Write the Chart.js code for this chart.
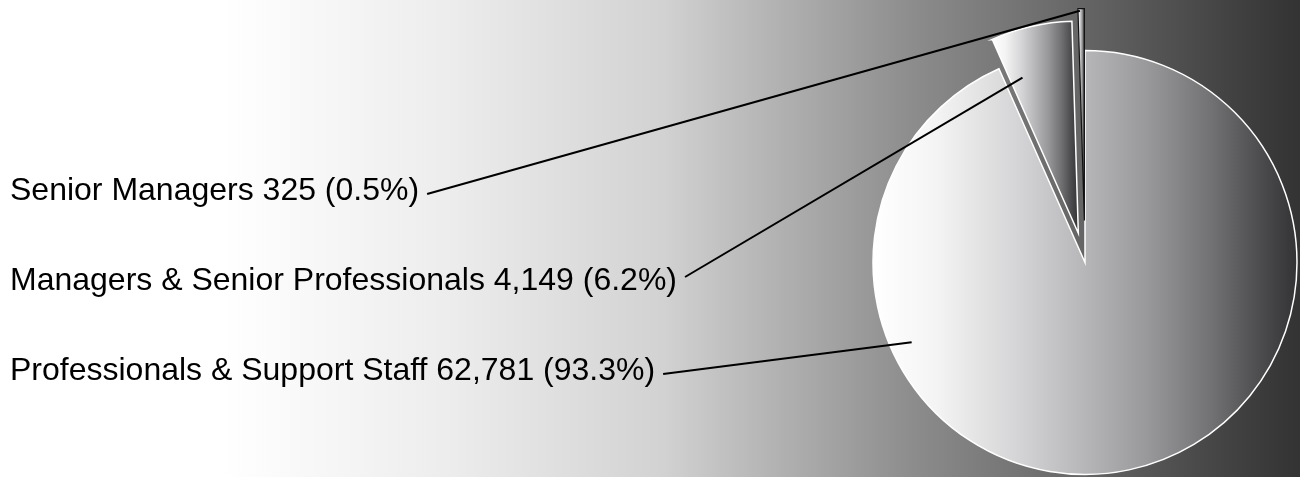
<!DOCTYPE html>
<html>
<head>
<meta charset="utf-8">
<script src="https://cdn.jsdelivr.net/npm/chart.js@4.4.1/dist/chart.umd.min.js"></script>
<style>
  html, body { margin: 0; padding: 0; background: #fff; }
  #wrap { width: 1300px; height: 477px; position: relative; }
</style>
</head>
<body>
<div id="wrap"><canvas id="staffChart"></canvas></div>
<script>
// data
const categories = ['Professionals & Support Staff', 'Managers & Senior Professionals', 'Senior Managers'];
const headcounts = [62781, 4149, 325];

// styling only
const explode = [0, 30, 42];               // px each slice is pulled out
const labelBaselines = [380, 290, 200];
const leaderAnchor = [{ t: 0.73, r: 0.9 }, { t: 0.19, r: 0.78 }, { t: 0.3, r: 0.99 }];
const leaderRise = [6, 13, 6];
const sliceBorders = ['#ffffff', '#ffffff', '#111111'];
const sliceBorderWidths = [1.5, 1.5, 1.2];

const total = headcounts.reduce((a, b) => a + b, 0);
const labelText = categories.map(function (c, i) {
    const pct = (headcounts[i] / total * 100).toFixed(1);
    return c + ' ' + headcounts[i].toLocaleString('en-US') + ' (' + pct + '%)';
});

const bgPlugin = {
    id: 'bgFill',
    beforeDraw: function (chart) {
        const ctx = chart.ctx;
        const w = chart.width, h = chart.height;
        const g = ctx.createLinearGradient(0, 0, w, 0);
        g.addColorStop(0, '#ffffff');
        g.addColorStop(0.17, '#ffffff');
        g.addColorStop(0.35, '#ececec');
        g.addColorStop(0.51, '#d2d2d2');
        g.addColorStop(0.60, '#b1b1b1');
        g.addColorStop(0.70, '#8d8d8d');
        g.addColorStop(0.85, '#606060');
        g.addColorStop(0.96, '#3e3e3e');
        g.addColorStop(1, '#333333');
        ctx.save();
        ctx.fillStyle = g;
        ctx.fillRect(0, 0, w, h);
        ctx.restore();
    }
};

// pull slices out along their middle angle
const explodePlugin = {
    id: 'explode',
    afterDatasetsUpdate: function (chart) {
        chart.getDatasetMeta(0).data.forEach(function (el, i) {
            const mid = (el.startAngle + el.endAngle) / 2;
            el.x += Math.cos(mid) * explode[i];
            el.y += Math.sin(mid) * explode[i];
        });
    }
};

// each slice gets its own left-to-right shading
const shadePlugin = {
    id: 'shade',
    beforeDatasetsDraw: function (chart) {
        const ctx = chart.ctx;
        chart.getDatasetMeta(0).data.forEach(function (el) {
            let minX = el.x, maxX = el.x;
            for (let k = 0; k <= 60; k++) {
                const a = el.startAngle + (el.endAngle - el.startAngle) * k / 60;
                const px = el.x + Math.cos(a) * el.outerRadius;
                minX = Math.min(minX, px);
                maxX = Math.max(maxX, px);
            }
            const g = ctx.createLinearGradient(minX, 0, maxX, 0);
            g.addColorStop(0, '#ffffff');
            g.addColorStop(0.15, '#f4f4f4');
            g.addColorStop(0.35, '#d3d3d5');
            g.addColorStop(0.5, '#b6b6b9');
            g.addColorStop(0.65, '#98989b');
            g.addColorStop(0.8, '#717174');
            g.addColorStop(0.92, '#4a4a4c');
            g.addColorStop(1, '#333335');
            el.options.backgroundColor = g;
        });
    }
};

const labelPlugin = {
    id: 'leaderLabels',
    afterDatasetsDraw: function (chart) {
        const ctx = chart.ctx;
        const arcs = chart.getDatasetMeta(0).data;
        ctx.save();
        ctx.font = '32px "Liberation Sans", Arial, Helvetica, sans-serif';
        ctx.fillStyle = '#000';
        ctx.textBaseline = 'alphabetic';
        ctx.strokeStyle = '#000';
        ctx.lineWidth = 2;
        arcs.forEach(function (el, i) {
            const x0 = 10;
            const y0 = labelBaselines[i];
            ctx.fillText(labelText[i], x0, y0);
            const endX = x0 + ctx.measureText(labelText[i]).width + 8;
            const a = el.startAngle + (el.endAngle - el.startAngle) * leaderAnchor[i].t;
            const rr = el.outerRadius * leaderAnchor[i].r;
            ctx.beginPath();
            ctx.moveTo(endX, y0 - leaderRise[i]);
            ctx.lineTo(el.x + Math.cos(a) * rr, el.y + Math.sin(a) * rr);
            ctx.stroke();
        });
        ctx.restore();
    }
};

new Chart(document.getElementById('staffChart'), {
    type: 'pie',
    data: {
        labels: categories,
        datasets: [{
            data: headcounts,
            radius: 212,
            backgroundColor: ['#cccccc', '#999999', '#666666'],
            borderColor: sliceBorders,
            borderWidth: sliceBorderWidths,
            borderJoinStyle: 'miter'
        }]
    },
    options: {
        responsive: true,
        maintainAspectRatio: false,
        devicePixelRatio: 1,
        animation: false,
        events: [],
        layout: {
            padding: { left: 870, right: 0, top: 48, bottom: 0 }
        },
        plugins: {
            legend: { display: false },
            tooltip: { enabled: false }
        }
    },
    plugins: [bgPlugin, explodePlugin, shadePlugin, labelPlugin]
});
</script>
</body>
</html>
